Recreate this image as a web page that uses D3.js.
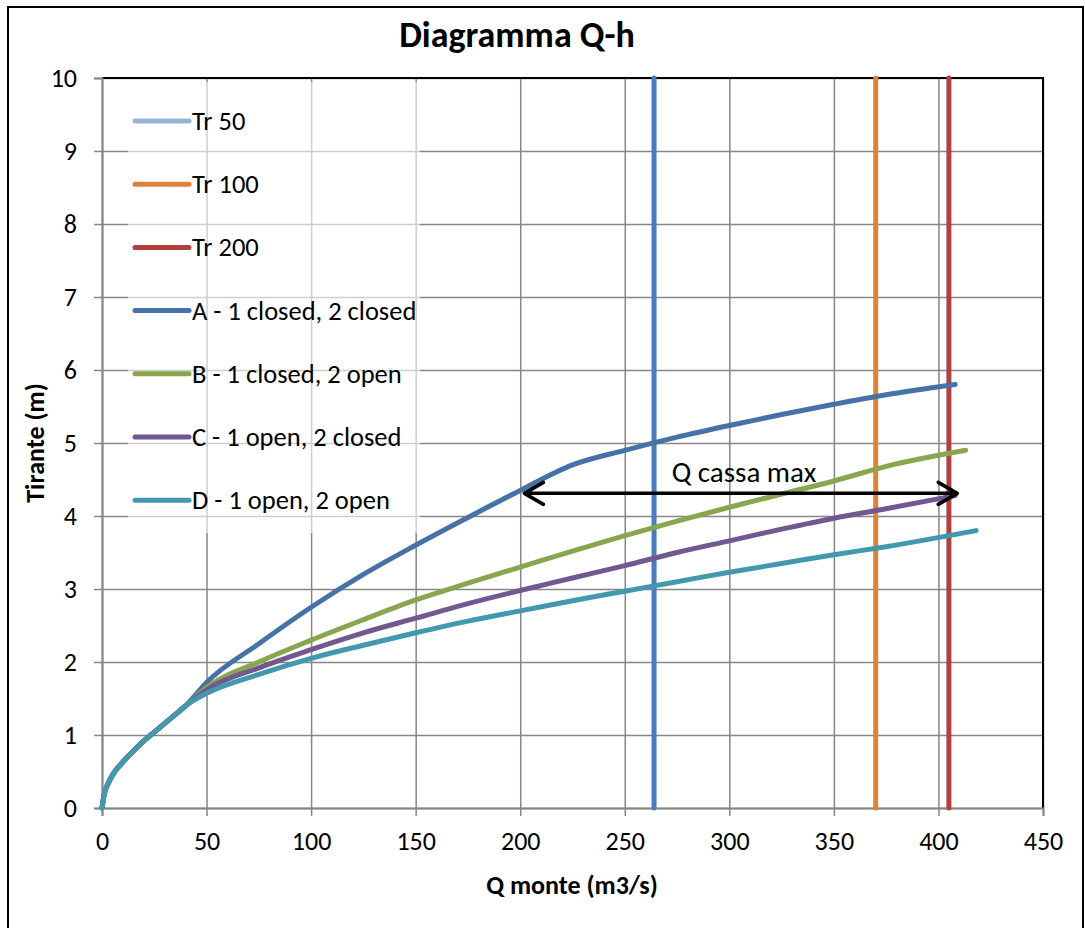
<!DOCTYPE html>
<html>
<head>
<meta charset="utf-8">
<script src="https://cdn.jsdelivr.net/npm/d3@7"></script>
<style>
  body { margin: 0; background: #fff; }
  svg text { font-family: Carlito, Lato, "Noto Sans", sans-serif; fill: #000; }
</style>
</head>
<body>
<svg id="chart"></svg>
<script>
// vertical reference lines (return periods)
const trNames = ["Tr 50", "Tr 100", "Tr 200"];
const trQ = [264, 370, 405];
const trH = [0, 10];

// Q-h curves
const qA = [0, 1, 3, 5, 10, 15, 20, 25, 30, 35, 40, 50, 75, 100, 125, 150, 175, 200, 225, 250, 275, 300, 325, 350, 375, 408];
const hA = [0, 0.18, 0.34, 0.45, 0.63, 0.78, 0.92, 1.04, 1.16, 1.28, 1.4, 1.72, 2.25, 2.75, 3.2, 3.6, 3.98, 4.35, 4.7, 4.9, 5.08, 5.24, 5.39, 5.53, 5.66, 5.8];

const qB = [0, 1, 3, 5, 10, 15, 20, 25, 30, 35, 40, 50, 75, 100, 125, 150, 175, 200, 225, 250, 275, 300, 325, 350, 375, 413];
const hB = [0, 0.18, 0.34, 0.45, 0.63, 0.78, 0.92, 1.04, 1.16, 1.28, 1.4, 1.65, 2.0, 2.3, 2.58, 2.85, 3.08, 3.3, 3.52, 3.73, 3.93, 4.12, 4.3, 4.48, 4.68, 4.9];

const qC = [0, 1, 3, 5, 10, 15, 20, 25, 30, 35, 40, 50, 75, 100, 125, 150, 175, 200, 225, 250, 275, 300, 325, 350, 375, 408];
const hC = [0, 0.18, 0.34, 0.45, 0.63, 0.78, 0.92, 1.04, 1.16, 1.28, 1.4, 1.62, 1.92, 2.17, 2.4, 2.6, 2.8, 2.98, 3.15, 3.32, 3.5, 3.66, 3.82, 3.97, 4.1, 4.28];

const qD = [0, 1, 3, 5, 10, 15, 20, 25, 30, 35, 40, 50, 75, 100, 125, 150, 175, 200, 225, 250, 275, 300, 325, 350, 375, 418];
const hD = [0, 0.18, 0.34, 0.45, 0.63, 0.78, 0.92, 1.04, 1.16, 1.28, 1.4, 1.57, 1.83, 2.05, 2.23, 2.4, 2.56, 2.7, 2.84, 2.97, 3.1, 3.23, 3.35, 3.47, 3.58, 3.8];

const curveNames = ["A - 1 closed, 2 closed", "B - 1 closed, 2 open", "C - 1 open, 2 closed", "D - 1 open, 2 open"];

// arrow "Q cassa max"
const arrowQ = [202, 409];
const arrowH = 4.31;
const arrowLabel = "Q cassa max";

const xTicks = [0, 50, 100, 150, 200, 250, 300, 350, 400, 450];
const yTicks = [0, 1, 2, 3, 4, 5, 6, 7, 8, 9, 10];

const width = 1085;
const height = 928;
const margin = { top: 78, left: 102, bottom: 120, right: 42 };
const gridColor = "#868686";

const svg = d3.select("#chart").attr("width", width).attr("height", height);

svg.append("rect")
  .attr("x", 8).attr("y", 7)
  .attr("width", 1075).attr("height", 940)
  .attr("fill", "#fff")
  .attr("stroke", "#000")
  .attr("stroke-width", 2);

const xScale = d3.scaleLinear().domain([0, 450]).range([margin.left, width - margin.right]);
const yScale = d3.scaleLinear().domain([0, 10]).range([height - margin.bottom, margin.top]);

// grid
svg.append("g")
  .attr("class", "grid")
  .attr("transform", `translate(0,${yScale(0)})`)
  .call(d3.axisBottom(xScale).tickValues(xTicks).tickSize(-(yScale(0) - yScale(10))).tickFormat(""))
  .call(g => g.select(".domain").remove())
  .selectAll("line").attr("stroke", gridColor).attr("stroke-width", 1.5);

svg.append("g")
  .attr("class", "grid")
  .attr("transform", `translate(${xScale(0)},0)`)
  .call(d3.axisLeft(yScale).tickValues(yTicks).tickSize(-(xScale(450) - xScale(0))).tickFormat(""))
  .call(g => g.select(".domain").remove())
  .selectAll("line").attr("stroke", gridColor).attr("stroke-width", 1.5);

// plot border: top/right black
svg.append("path")
  .attr("d", `M${xScale(0)},${yScale(10)}H${xScale(450)}V${yScale(0)}`)
  .attr("fill", "none").attr("stroke", "#000").attr("stroke-width", 2);

// axes
const xAxis = svg.append("g")
  .attr("transform", `translate(0,${yScale(0)})`)
  .call(d3.axisBottom(xScale).tickValues(xTicks).tickSize(8).tickPadding(16));
xAxis.select(".domain").attr("stroke", gridColor).attr("stroke-width", 2);
xAxis.selectAll("line").attr("stroke", gridColor).attr("stroke-width", 1.5);
xAxis.selectAll("text").style("font-size", "26px");

const yAxis = svg.append("g")
  .attr("transform", `translate(${xScale(0)},0)`)
  .call(d3.axisLeft(yScale).tickValues(yTicks).tickSize(8).tickPadding(17));
yAxis.select(".domain").attr("stroke", gridColor).attr("stroke-width", 2);
yAxis.selectAll("line").attr("stroke", gridColor).attr("stroke-width", 1.5);
yAxis.selectAll("text").style("font-size", "26px");

// legend backdrop (semi transparent, dims the grid behind it)
svg.append("rect")
  .attr("x", 128).attr("y", 82)
  .attr("width", 292).attr("height", 451)
  .attr("fill", "#fff").attr("opacity", 0.6);

// vertical Tr lines
const trColors = ["#4A7EBB", "#E0823B", "#B0413E"];
const trLegendColors = ["#95B3D7", "#E0823B", "#B0413E"];
trQ.forEach((q, i) => {
  svg.append("path")
    .datum(trH)
    .attr("d", d3.line().x(() => xScale(q)).y(h => yScale(h)))
    .attr("fill", "none")
    .attr("stroke", trColors[i])
    .attr("stroke-width", 5)
    .attr("stroke-linecap", "round");
});

// curves
const curveColors = ["#4572A7", "#89A54E", "#71588F", "#4198AF"];
const curveData = [[qA, hA], [qB, hB], [qC, hC], [qD, hD]];
const line = d3.line()
  .x(d => xScale(d[0]))
  .y(d => yScale(d[1]))
  .curve(d3.curveMonotoneX);

curveData.forEach((c, i) => {
  svg.append("path")
    .datum(c[0].map((q, j) => [q, c[1][j]]))
    .attr("d", line)
    .attr("fill", "none")
    .attr("stroke", curveColors[i])
    .attr("stroke-width", 5)
    .attr("stroke-linejoin", "round")
    .attr("stroke-linecap", "round");
});

// arrow
const ay = yScale(arrowH);
const ax1 = xScale(arrowQ[0]);
const ax2 = xScale(arrowQ[1]);
svg.append("path")
  .attr("d", `M${ax1},${ay}H${ax2}M${ax1 + 19},${ay - 11}L${ax1},${ay}L${ax1 + 19},${ay + 11}M${ax2 - 19},${ay - 11}L${ax2},${ay}L${ax2 - 19},${ay + 11}`)
  .attr("fill", "none")
  .attr("stroke", "#000")
  .attr("stroke-width", 3.5)
  .attr("stroke-linejoin", "round")
  .attr("stroke-linecap", "round");

svg.append("text")
  .attr("x", xScale(307))
  .attr("y", yScale(4.47))
  .attr("text-anchor", "middle")
  .style("font-size", "29px")
  .text(arrowLabel);

// legend
const legendNames = trNames.concat(curveNames);
const legendColors = trLegendColors.concat(curveColors);
const legend = svg.append("g");
legendNames.forEach((name, i) => {
  const y = 121 + i * 63.2;
  legend.append("line")
    .attr("x1", 135).attr("x2", 189)
    .attr("y1", y).attr("y2", y)
    .attr("stroke", legendColors[i])
    .attr("stroke-width", 5)
    .attr("stroke-linecap", "round");
  legend.append("text")
    .attr("x", 192).attr("y", y + 9)
    .style("font-size", "26.5px")
    .text(name);
});

// titles
svg.append("text")
  .attr("x", 517).attr("y", 47)
  .attr("text-anchor", "middle")
  .style("font-size", "36px")
  .style("font-weight", "bold")
  .text("Diagramma Q-h");

svg.append("text")
  .attr("x", 572).attr("y", 894)
  .attr("text-anchor", "middle")
  .style("font-size", "26px")
  .style("font-weight", "bold")
  .text("Q monte (m3/s)");

svg.append("text")
  .attr("transform", "rotate(-90)")
  .attr("x", -443).attr("y", 44)
  .attr("text-anchor", "middle")
  .style("font-size", "26px")
  .style("font-weight", "bold")
  .text("Tirante (m)");
</script>
</body>
</html>
